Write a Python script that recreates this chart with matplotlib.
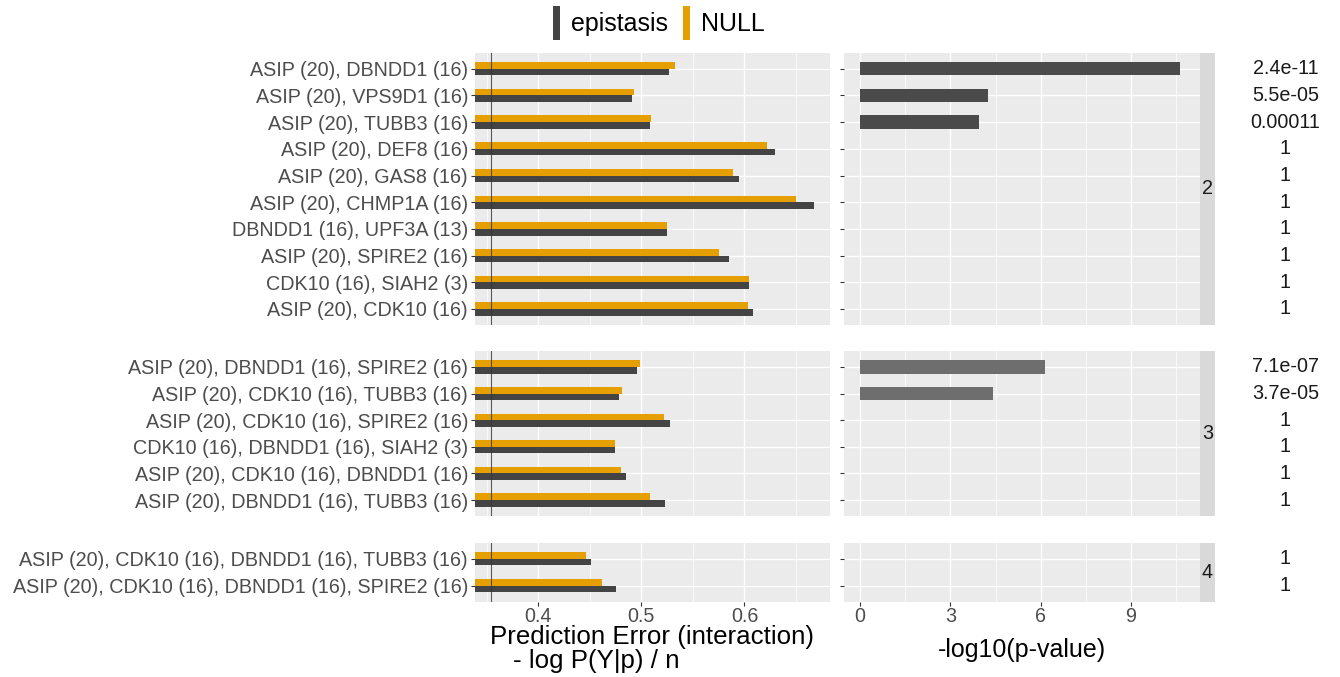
import numpy as np
import matplotlib
matplotlib.use("Agg")
import matplotlib.pyplot as plt
from matplotlib.patches import Patch

plt.rcParams["font.family"] = ["Liberation Sans", "DejaVu Sans"]

# ── Data ──────────────────────────────────────────────────────────────────────
labels_2 = ["ASIP (20), DBNDD1 (16)", "ASIP (20), VPS9D1 (16)", "ASIP (20), TUBB3 (16)",
            "ASIP (20), DEF8 (16)", "ASIP (20), GAS8 (16)", "ASIP (20), CHMP1A (16)",
            "DBNDD1 (16), UPF3A (13)", "ASIP (20), SPIRE2 (16)", "CDK10 (16), SIAH2 (3)",
            "ASIP (20), CDK10 (16)"]
epistasis_2 = [0.527, 0.491, 0.508, 0.630, 0.595, 0.667, 0.525, 0.585, 0.604, 0.608]
null_2      = [0.533, 0.493, 0.509, 0.622, 0.589, 0.650, 0.525, 0.575, 0.604, 0.603]
pval_2      = ["2.4e-11", "5.5e-05", "0.00011", "1", "1", "1", "1", "1", "1", "1"]

labels_3 = ["ASIP (20), DBNDD1 (16), SPIRE2 (16)", "ASIP (20), CDK10 (16), TUBB3 (16)",
            "ASIP (20), CDK10 (16), SPIRE2 (16)", "CDK10 (16), DBNDD1 (16), SIAH2 (3)",
            "ASIP (20), CDK10 (16), DBNDD1 (16)", "ASIP (20), DBNDD1 (16), TUBB3 (16)"]
epistasis_3 = [0.4955, 0.478, 0.528, 0.474, 0.485, 0.523]
null_3      = [0.4985, 0.481, 0.522, 0.474, 0.480, 0.508]
pval_3      = ["7.1e-07", "3.7e-05", "1", "1", "1", "1"]

labels_4 = ["ASIP (20), CDK10 (16), DBNDD1 (16), TUBB3 (16)",
            "ASIP (20), CDK10 (16), DBNDD1 (16), SPIRE2 (16)"]
epistasis_4 = [0.4515, 0.4757]
null_4      = [0.4463, 0.4621]
pval_4      = ["1", "1"]

groups = [("2", labels_2, epistasis_2, null_2, pval_2, "#4a4a4a"),
          ("3", labels_3, epistasis_3, null_3, pval_3, "#6e6e6e"),
          ("4", labels_4, epistasis_4, null_4, pval_4, "#6e6e6e")]

EPI_COL  = "#444444"
NULL_COL = "#E69F00"
BG       = "#EBEBEB"
STRIP    = "#D9D9D9"
TXT      = "#4D4D4D"
FS_TICK  = 14.2
FS_TITLE = 18.6

W, H = 1340, 677
fig = plt.figure(figsize=(W / 100, H / 100), dpi=100)


def px_axes(x0, y0, x1, y1):
    return fig.add_axes([x0 / W, 1 - y1 / H, (x1 - x0) / W, (y1 - y0) / H])


def style(ax):
    ax.set_facecolor(BG)
    for s in ax.spines.values():
        s.set_visible(False)
    ax.grid(True, which="major", color="white", linewidth=1.0)
    ax.grid(True, which="minor", axis="x", color="white", linewidth=0.5)
    ax.set_axisbelow(True)
    ax.tick_params(which="both", colors="#333333", length=3, width=0.8,
                   labelcolor=TXT, pad=2)
    ax.tick_params(axis="x", pad=0.5)
    ax.tick_params(which="minor", length=0)


panel_y = [(52.7, 325.0), (351.0, 516.0), (542.7, 601.7)]
L_X = (475, 830)
R_X = (844, 1200)
S_X = (1200, 1215)

for (name, labels, epi, nul, pv, pcol), (y0, y1) in zip(groups, panel_y):
    n = len(labels)
    ypos = np.arange(n)
    last = name == "4"

    # left: prediction error
    axl = px_axes(L_X[0], y0, L_X[1], y1)
    style(axl)
    axl.barh(ypos - 0.125, nul, height=0.25, left=0, color=NULL_COL)
    axl.barh(ypos + 0.125, epi, height=0.25, left=0, color=EPI_COL)
    axl.axvline(0.354, color="#333333", linewidth=0.8, alpha=0.8)
    axl.set_xlim(0.3385, 0.683)
    axl.set_ylim(n - 0.4, -0.6)
    axl.set_xticks([0.4, 0.5, 0.6])
    axl.set_xticks([0.35, 0.45, 0.55, 0.65], minor=True)
    axl.set_yticks(ypos)
    axl.set_yticklabels(labels, fontsize=FS_TICK)
    if last:
        axl.set_xticklabels(["0.4", "0.5", "0.6"], fontsize=FS_TICK)
    else:
        axl.tick_params(axis="x", length=0, labelbottom=False)

    # right: -log10(p-value)
    pnum = np.array([float(p) for p in pv])
    axr = px_axes(R_X[0], y0, R_X[1], y1)
    style(axr)
    axr.barh(ypos, -np.log10(pnum), height=0.5, color=pcol)
    axr.set_xlim(-0.54, 11.3)
    axr.set_ylim(n - 0.4, -0.6)
    axr.set_xticks([0, 3, 6, 9])
    axr.set_xticks([1.5, 4.5, 7.5, 10.5], minor=True)
    axr.set_yticks(ypos)
    axr.set_yticklabels([])
    if last:
        axr.set_xticklabels(["0", "3", "6", "9"], fontsize=FS_TICK)
    else:
        axr.tick_params(axis="x", length=0, labelbottom=False)

    # p-value text beside panel
    for yi, txt in zip(ypos, pv):
        axr.text(1.24, yi, txt, transform=axr.get_yaxis_transform(),
                 ha="center", va="center", fontsize=FS_TICK, color="#1A1A1A")

    # facet strip
    axs = px_axes(S_X[0], y0, S_X[1], y1)
    axs.set_facecolor(STRIP)
    axs.set_xticks([])
    axs.set_yticks([])
    for s in axs.spines.values():
        s.set_visible(False)
    axs.text(0.5, 0.5, name, transform=axs.transAxes, ha="center", va="center",
             fontsize=FS_TICK, color="#1A1A1A")

# axis titles
fig.text(652 / W, 1 - 644 / H, "Prediction Error (interaction)", ha="center", va="baseline",
         fontsize=FS_TITLE, color="black")
fig.text(513 / W, 1 - 668 / H, "- log P(Y|p) / n", ha="left", va="baseline",
         fontsize=FS_TITLE, color="black")
fig.text(1022 / W, 1 - 657 / H, "-log10(p-value)", ha="center", va="baseline",
         fontsize=18.0, color="black")

# legend
handles = [Patch(facecolor=EPI_COL, label="epistasis"), Patch(facecolor=NULL_COL, label="NULL")]
fig.legend(handles=handles, loc="center", bbox_to_anchor=(659 / W, 1 - 23 / H), ncol=2,
           frameon=False, fontsize=18.0, handlelength=0.28, handleheight=1.7,
           handletextpad=0.45, columnspacing=0.6)

plt.savefig("out.png", dpi=100)
plt.close()
